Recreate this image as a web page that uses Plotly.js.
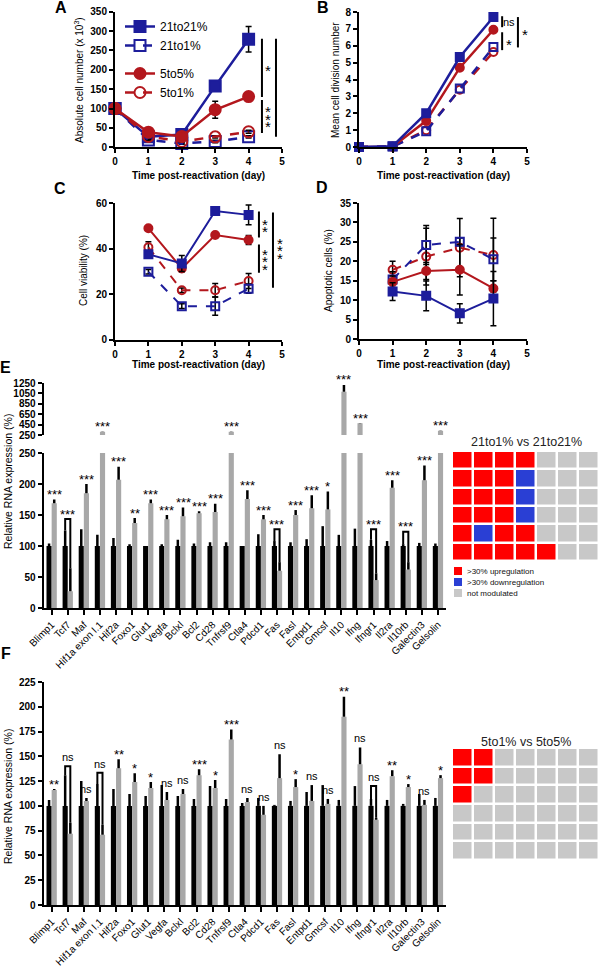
<!DOCTYPE html>
<html><head><meta charset="utf-8">
<script src="https://cdn.plot.ly/plotly-3.0.1.min.js"></script>
<style>html,body{margin:0;padding:0;background:#fff}#chart{width:600px;height:970px}</style>
</head><body><div id="chart"></div>
<script>
// ---------------- DATA ----------------
const days = [0, 1, 2, 3, 4];
const daysCD = [1, 2, 3, 4];
const seriesNames = ['21to21%', '21to1%', '5to5%', '5to1%'];

// A: Absolute cell number (x 10^3)
const cellNum_21to21 = [100, 27, 33, 158, 279];
const cellNum_21to21_err = [4, 3, 3, 5, 33];
const cellNum_21to1 = [100, 19, 10, 15, 27];
const cellNum_21to1_err = [0, 2, 2, 3, 3];
const cellNum_5to5 = [100, 39, 28, 97, 131];
const cellNum_5to5_err = [0, 3, 3, 22, 5];
const cellNum_5to1 = [100, 28, 15, 27, 40];
const cellNum_5to1_err = [0, 2, 2, 3, 4];

// B: Mean cell division number
const div_21to21 = [0, 0.05, 2.0, 5.33, 7.7];
const div_21to1 = [0, 0.03, 0.93, 3.46, 5.93];
const div_5to5 = [0, 0.02, 1.55, 4.7, 6.95];
const div_5to1 = [0, 0.02, 1.0, 3.4, 5.63];

// C: Cell viability (%)
const via_21to21 = [37.5, 33.5, 56.6, 54.9];
const via_21to21_err = [1.5, 3.5, 1, 4.3];
const via_21to1 = [29.8, 14.7, 14.7, 22.4];
const via_21to1_err = [1, 1, 4, 2];
const via_5to5 = [49, 31.3, 46, 43.8];
const via_5to5_err = [1, 1.5, 1, 2];
const via_5to1 = [40.6, 21.7, 21.7, 25.8];
const via_5to1_err = [2.5, 1, 3, 3.3];

// D: Apoptotic cells (%)
const apo_21to21 = [12.2, 11.1, 6.6, 10.4];
const apo_21to21_err = [2.3, 3.8, 2.5, 7];
const apo_21to1 = [15.3, 24.2, 25, 20.5];
const apo_21to1_err = [2, 5, 1, 5.5];
const apo_5to5 = [14.7, 17.5, 17.8, 13];
const apo_5to5_err = [1.5, 2.2, 6.5, 2];
const apo_5to1 = [17.8, 21.2, 23.5, 21.6];
const apo_5to1_err = [2.2, 7.3, 7.5, 9.5];

// E / F genes
const genes = ['Blimp1','Tcf7','Maf','Hif1a exon I.1','Hif2a','Foxo1','Glut1','Vegfa','Bclxl','Bcl2','Cd28','Tnfrsf9','Ctla4','Pdcd1','Fas','Fasl','Entpd1','Gmcsf','Il10','Ifng','Ifngr1','Il2ra','Il10rb','Galectin3','Gelsolin'];

// E: 21to21% (black) vs 21to1% (grey)
const E_ref = [100,100,100,100,100,100,100,100,100,100,100,100,100,100,100,100,100,100,100,100,100,100,100,100,100];
const E_ref_err = [4,25,27,18,13,3,0,3,10,4,6,6,0,19,8,6,11,32,18,28,10,8,3,5,4];
const E_test = [169,27,185,313,207,137,169,143,148,153,155,313,176,143,60,150,161,159,1083,475,45,194,62,206,330];
const E_test_err = [6,37,15,5,21,8,6,7,14,3,13,5,14,7,14,8,21,29,129,5,11,12,12,24,5];
const E_sig = ['***','***','***','***','***','**','***','***','***','***','***','***','***','***','***','***','***','*','***','***','***','***','***','***','***'];
const E_bracketTop = [null,143.5,null,null,null,null,null,null,null,null,null,null,null,null,127,null,null,null,null,null,127,null,123,null,null];

// F: 5to5% (black) vs 5to1% (grey)
const F_ref = [100,100,100,100,100,100,100,100,100,100,100,100,100,100,100,100,100,100,100,100,100,100,100,100,100];
const F_ref_err = [6,31,25,22,17,12,10,21,10,7,20,7,3,8,1,5,14,21,6,20,7,6,2,12,8];
const F_test = [116,72,105,71,138,124,118,106,112,131,118,167,104,91,128,119,105,102,190,142,86,130,119,101,128];
const F_test_err = [1,11,3,10,9,9,6,8,5,6,8,10,4,9,24,8,16,5,20,17,2,6,3,5,3];
const F_sig = ['**','ns','ns','ns','**','*','*','ns','ns','***','*','***','ns','ns','ns','*','ns','ns','**','ns','ns','**','*','ns','*'];
const F_bracketTop = [null,140,null,133.5,null,null,null,null,null,null,null,null,null,null,null,null,null,null,null,null,120,null,null,null,null];

// Heat maps: 2 = >30% upregulation, 1 = >30% downregulation, 0 = not modulated
const heatE = [
  [2,2,2,2,0,0,0],
  [2,2,2,1,0,0,0],
  [2,2,2,1,0,0,0],
  [2,2,2,1,0,0,0],
  [2,1,2,2,0,0,0],
  [2,2,2,2,2,0,0]
];
const heatF = [
  [2,2,0,0,0,0,0],
  [2,2,0,0,0,0,0],
  [2,0,0,0,0,0,0],
  [0,0,0,0,0,0,0],
  [0,0,0,0,0,0,0],
  [0,0,0,0,0,0,0]
];
const heatLegend = ['>30% upregulation', '>30% downregulation', 'not modulated'];
const heatTitles = ['21to1% vs 21to21%', '5to1% vs 5to5%'];

// ---------------- STYLE ----------------
const FONT = 'Liberation Sans, Arial, Helvetica, sans-serif';
const BLUE = '#1d1d9b', RED = '#b3171d';
const GREY_BAR = '#a8a8a8';
const HEAT_COLORS = ['#c8c8c8', '#2a3fd4', '#ff0000'];

function xd(a, b) { return [a / 600, b / 600]; }
function yd(top, bottom) { return [1 - bottom / 970, 1 - top / 970]; }

const traces = [];
function series(xa, ya, x, y, err, name, color, open, circle, size, lw, showleg, rank) {
  traces.push({
    type: 'scatter', mode: 'lines+markers', x: x, y: y, xaxis: xa, yaxis: ya,
    name: name, showlegend: showleg, legendrank: rank, legendgroup: name.indexOf('21') === 0 ? 'g1' : 'g2',
    line: { color: color, width: lw, dash: open ? 'dash' : 'solid' },
    marker: { symbol: (circle ? 'circle' : 'square') + (open ? '-open' : ''), size: size, color: color, line: { color: color, width: 2 } },
    error_y: err ? { type: 'data', array: err, visible: true, color: 'black', thickness: 1.5, width: 3 } : { visible: false },
    cliponaxis: false, hoverinfo: 'skip'
  });
}

// A
series('x','y', days, cellNum_21to21, cellNum_21to21_err, seriesNames[0], BLUE, false, false, 11, 2.5, true, 1);
series('x','y', days, cellNum_21to1, cellNum_21to1_err, seriesNames[1], BLUE, true, false, 11, 2.5, true, 2);
series('x','y', days, cellNum_5to1, cellNum_5to1_err, seriesNames[3], RED, true, true, 11, 2.5, true, 4);
series('x','y', days, cellNum_5to5, cellNum_5to5_err, seriesNames[2], RED, false, true, 11, 2.5, true, 3);
// B
series('x2','y2', days, div_5to1, null, seriesNames[3], RED, true, true, 8, 2.5, false, 4);
series('x2','y2', days, div_21to1, null, seriesNames[1], BLUE, true, false, 8, 2.5, false, 2);
series('x2','y2', days, div_5to5, null, seriesNames[2], RED, false, true, 8, 2.5, false, 3);
series('x2','y2', days, div_21to21, null, seriesNames[0], BLUE, false, false, 8, 2.5, false, 1);
// C
series('x3','y3', daysCD, via_5to1, via_5to1_err, seriesNames[3], RED, true, true, 8, 2, false, 4);
series('x3','y3', daysCD, via_21to1, via_21to1_err, seriesNames[1], BLUE, true, false, 8, 2, false, 2);
series('x3','y3', daysCD, via_5to5, via_5to5_err, seriesNames[2], RED, false, true, 8, 2, false, 3);
series('x3','y3', daysCD, via_21to21, via_21to21_err, seriesNames[0], BLUE, false, false, 8, 2, false, 1);
// D
series('x4','y4', daysCD, apo_5to1, apo_5to1_err, seriesNames[3], RED, true, true, 8, 2, false, 4);
series('x4','y4', daysCD, apo_21to1, apo_21to1_err, seriesNames[1], BLUE, true, false, 8, 2, false, 2);
series('x4','y4', daysCD, apo_5to5, apo_5to5_err, seriesNames[2], RED, false, true, 8, 2, false, 3);
series('x4','y4', daysCD, apo_21to21, apo_21to21_err, seriesNames[0], BLUE, false, false, 8, 2, false, 1);

// Bars
const idx = genes.map((g, i) => i);
function bars(xa, ya, vals, errs, color) {
  traces.push({
    type: 'bar', x: idx, y: vals, xaxis: xa, yaxis: ya, showlegend: false, hoverinfo: 'skip',
    marker: { color: color, line: { width: 0 } },
    error_y: { type: 'data', array: errs, arrayminus: errs.map(() => 0), symmetric: false, visible: true, color: 'black', thickness: 2.5, width: 0 }
  });
}
bars('x5', 'y5', E_ref, E_ref_err, 'black');
bars('x5', 'y5', E_test, E_test_err, GREY_BAR);
bars('x5', 'y6', E_ref, E_ref_err, 'black');
bars('x5', 'y6', E_test, E_test_err, GREY_BAR);
bars('x7', 'y7', F_ref, F_ref_err, 'black');
bars('x7', 'y7', F_test, F_test_err, GREY_BAR);

// Heat maps
const heatScale = [[0, HEAT_COLORS[0]], [0.333, HEAT_COLORS[0]], [0.333, HEAT_COLORS[1]], [0.667, HEAT_COLORS[1]], [0.667, HEAT_COLORS[2]], [1, HEAT_COLORS[2]]];
traces.push({ type: 'heatmap', z: heatE, xaxis: 'x8', yaxis: 'y8', zmin: 0, zmax: 2, colorscale: heatScale, showscale: false, xgap: 2.5, ygap: 2.5, hoverinfo: 'skip' });
traces.push({ type: 'heatmap', z: heatF, xaxis: 'x9', yaxis: 'y9', zmin: 0, zmax: 2, colorscale: heatScale, showscale: false, xgap: 2.5, ygap: 2.5, hoverinfo: 'skip' });

// ---------------- LAYOUT ----------------
function ax(extra) {
  return Object.assign({
    showline: true, linecolor: 'black', linewidth: 2, ticks: 'outside', ticklen: 4, tickwidth: 2, tickcolor: 'black',
    showgrid: false, zeroline: false, fixedrange: true,
    tickfont: { family: FONT, size: 10, color: 'black', weight: 'bold' }
  }, extra);
}
const geneAx = (dom, anchor) => ax({ domain: dom, anchor: anchor, range: [-0.5, 24.5], tickvals: idx, ticktext: genes, tickangle: -45, ticklen: 5, tickfont: { family: FONT, size: 10, color: 'black' } });
const hidden = (dom, anchor, range) => ({ domain: dom, anchor: anchor, range: range, visible: false, fixedrange: true });

const annotations = [];
const shapes = [];
function ann(text, px, py, o) {
  annotations.push(Object.assign({ text: text, xref: 'paper', yref: 'paper', x: px / 600, y: 1 - py / 970, showarrow: false, xanchor: 'center', yanchor: 'middle', font: { family: FONT, size: 10, color: 'black' } }, o || {}));
}
// Panel letters
[['A', 61, 8], ['B', 323, 8], ['C', 60, 189], ['D', 322, 188], ['E', 5, 367], ['F', 6, 653]].forEach(l => ann(l[0], l[1], l[2], { font: { family: FONT, size: 16, color: 'black', weight: 'bold' } }));
// Axis titles
const xTitle = 'Time post-reactivation (day)';
ann(xTitle, 198, 175, { font: { family: FONT, size: 10, color: 'black', weight: 'bold' } });
ann(xTitle, 443, 175, { font: { family: FONT, size: 10, color: 'black', weight: 'bold' } });
ann(xTitle, 198, 364, { font: { family: FONT, size: 10, color: 'black', weight: 'bold' } });
ann(xTitle, 443, 364, { font: { family: FONT, size: 10, color: 'black', weight: 'bold' } });
ann('Absolute cell number (x 10<sup>3</sup>)', 79, 80, { textangle: -90 });
ann('Mean cell division number', 335, 80, { textangle: -90 });
ann('Cell viability (%)', 83, 271, { textangle: -90 });
ann('Apoptotic cells (%)', 328, 271, { textangle: -90 });
ann('Relative RNA expression (%)', 8, 482, { textangle: -90, font: { family: FONT, size: 10.5, color: 'black' } });
ann('Relative RNA expression (%)', 8, 797, { textangle: -90, font: { family: FONT, size: 10.5, color: 'black' } });

// Significance marks in A-D (stars stacked vertically, one glyph per annotation)
function vline(xa, ya, x, y0, y1) { shapes.push({ type: 'line', xref: xa, yref: ya, x0: x, x1: x, y0: y0, y1: y1, line: { color: 'black', width: 2 } }); }
function mark(xa, ya, x, y, t, size, vertical) {
  if (vertical) {
    const n = t.length, step = 7.6;
    for (let k = 0; k < n; k++) {
      annotations.push({ text: t[k], xref: xa, yref: ya, x: x, y: y, yshift: ((n - 1) / 2 - k) * step - 3, showarrow: false, xanchor: 'center', yanchor: 'middle', font: { family: FONT, size: size, color: 'black' } });
    }
  } else {
    annotations.push({ text: t, xref: xa, yref: ya, x: x, y: y, showarrow: false, xanchor: 'center', yanchor: 'middle', font: { family: FONT, size: size, color: 'black' } });
  }
}
vline('x', 'y', 4.40, 280, 130); mark('x', 'y', 4.57, 205, '*', 15, true);
vline('x', 'y', 4.40, 122, 37); mark('x', 'y', 4.57, 80, '***', 15, true);
vline('x', 'y', 4.82, 280, 27); mark('x', 'y', 5.02, 153, '***', 15, true);
vline('x2', 'y2', 4.26, 7.75, 7.1); mark('x2', 'y2', 4.47, 7.4, 'ns', 11, false);
vline('x2', 'y2', 4.26, 6.8, 5.74); mark('x2', 'y2', 4.45, 6.05, '*', 15, false);
vline('x2', 'y2', 4.73, 7.7, 5.9); mark('x2', 'y2', 4.95, 6.65, '*', 15, false);
vline('x3', 'y3', 4.31, 56.4, 44.9); mark('x3', 'y3', 4.49, 50.5, '**', 15, true);
vline('x3', 'y3', 4.31, 41.8, 29.4); mark('x3', 'y3', 4.49, 35.5, '***', 15, true);
vline('x3', 'y3', 4.73, 56, 22.8); mark('x3', 'y3', 4.94, 40.4, '***', 15, true);

// Significance marks in E / F
function barSig(xa, yLow, yHigh, split, ref, refErr, test, testErr, sig, brTop) {
  for (let i = 0; i < genes.length; i++) {
    const isNs = sig[i] === 'ns';
    const f = { family: FONT, size: isNs ? 11 : 13, color: 'black' };
    const ysh = isNs ? 1 : -4.5;
    if (brTop[i] !== null) {
      const l = i - 0.16, r = i + 0.16;
      shapes.push({ type: 'path', xref: xa, yref: yLow, path: `M ${l},${ref[i] + refErr[i]} L ${l},${brTop[i]} L ${r},${brTop[i]} L ${r},${test[i] + testErr[i]}`, line: { color: 'black', width: 2 } });
      annotations.push({ text: sig[i], xref: xa, yref: yLow, x: i, y: brTop[i], yshift: ysh, showarrow: false, xanchor: 'center', yanchor: 'bottom', font: f });
    } else {
      const top = test[i] + testErr[i];
      const yr = (split && top > 250) ? yHigh : yLow;
      annotations.push({ text: sig[i], xref: xa, yref: yr, x: i, xshift: 2.6, y: top, yshift: ysh, showarrow: false, xanchor: 'center', yanchor: 'bottom', font: f });
    }
  }
}
barSig('x5', 'y5', 'y6', true, E_ref, E_ref_err, E_test, E_test_err, E_sig, E_bracketTop);
barSig('x7', 'y7', null, false, F_ref, F_ref_err, F_test, F_test_err, F_sig, F_bracketTop);

// Heat map titles and legend
ann(heatTitles[0], 526, 442, { font: { family: FONT, size: 12.5, color: '#222' } });
ann(heatTitles[1], 526, 742, { font: { family: FONT, size: 12.5, color: '#222' } });
heatLegend.forEach((t, k) => {
  const cy = 571 + k * 11;
  shapes.push({ type: 'rect', xref: 'paper', yref: 'paper', x0: 454 / 600, x1: 462 / 600, y0: 1 - (cy + 4) / 970, y1: 1 - (cy - 4) / 970, fillcolor: HEAT_COLORS[2 - k], line: { width: 0 } });
  ann(t, 465, cy, { xanchor: 'left', font: { family: FONT, size: 8, color: '#111' } });
});

const layout = {
  width: 600, height: 970, margin: { l: 0, r: 0, t: 0, b: 0 },
  paper_bgcolor: 'white', plot_bgcolor: 'white',
  font: { family: FONT, color: 'black' },
  barmode: 'group', bargap: 0.36, bargroupgap: 0,
  showlegend: true,
  legend: { x: 120 / 600, y: 1 - 12 / 970, xanchor: 'left', yanchor: 'top', bgcolor: 'rgba(0,0,0,0)', font: { family: FONT, size: 12, color: 'black' }, tracegroupgap: 9, itemwidth: 30, traceorder: 'grouped' },
  xaxis: ax({ domain: xd(115, 282), anchor: 'y', range: [0, 5], dtick: 1, tick0: 0 }),
  yaxis: ax({ domain: yd(11.7, 147.3), anchor: 'x', range: [0, 350], dtick: 50 }),
  xaxis2: ax({ domain: xd(359, 527), anchor: 'y2', range: [0, 5], dtick: 1, tick0: 0 }),
  yaxis2: ax({ domain: yd(12, 147), anchor: 'x2', range: [0, 8], dtick: 1 }),
  xaxis3: ax({ domain: xd(115, 282), anchor: 'y3', range: [0, 5], dtick: 1, tick0: 0 }),
  yaxis3: ax({ domain: yd(203.3, 339.5), anchor: 'x3', range: [0, 60], dtick: 20 }),
  xaxis4: ax({ domain: xd(359, 527), anchor: 'y4', range: [0, 5], dtick: 1, tick0: 0 }),
  yaxis4: ax({ domain: yd(203, 339), anchor: 'x4', range: [0, 35], dtick: 5 }),
  xaxis5: geneAx(xd(43.6, 446), 'y5'),
  yaxis5: ax({ domain: yd(453, 608), anchor: 'x5', range: [0, 250], dtick: 50 }),
  yaxis6: ax({ domain: yd(383, 435), anchor: 'x5', range: [250, 1250], tickvals: [250, 450, 650, 850, 1050, 1250] }),
  xaxis7: geneAx(xd(43.6, 446), 'y7'),
  yaxis7: ax({ domain: yd(682, 905), anchor: 'x7', range: [0, 225], dtick: 25 }),
  xaxis8: hidden(xd(452, 599), 'y8', [-0.5, 6.5]),
  yaxis8: hidden(yd(451, 561), 'x8', [5.5, -0.5]),
  xaxis9: hidden(xd(452, 599), 'y9', [-0.5, 6.5]),
  yaxis9: hidden(yd(748, 860), 'x9', [5.5, -0.5]),
  annotations: annotations,
  shapes: shapes
};

Plotly.newPlot('chart', traces, layout, { staticPlot: true, displayModeBar: false });
</script>
</body></html>
